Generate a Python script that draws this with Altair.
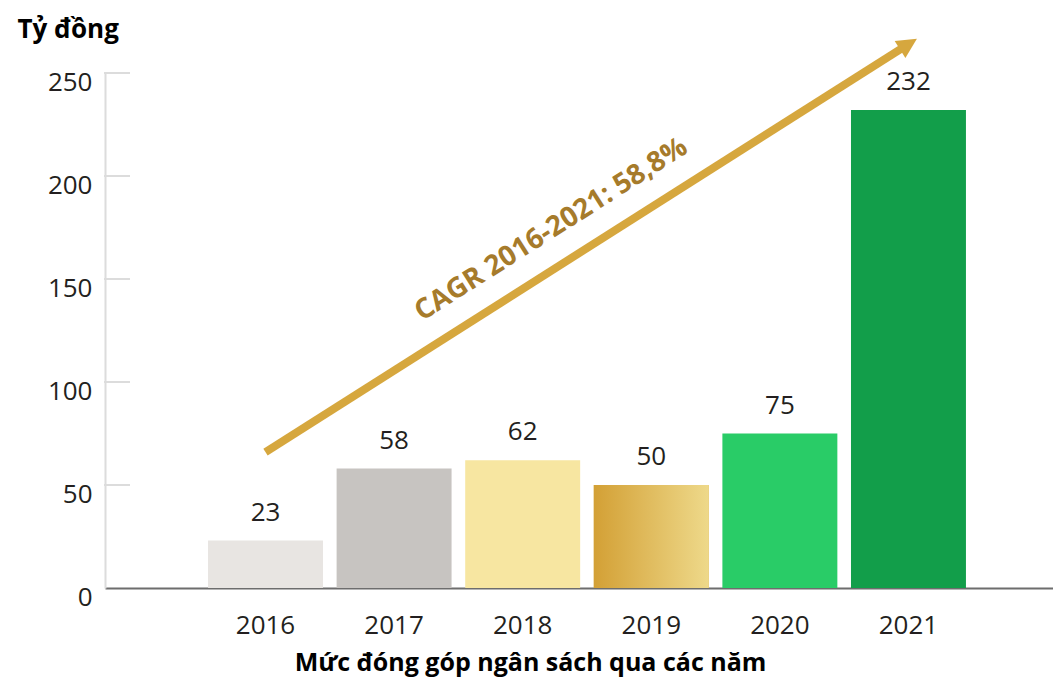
import altair as alt
import pandas as pd

# ---- data ----
years = ["2016", "2017", "2018", "2019", "2020", "2021"]
values = [23, 58, 62, 50, 75, 232]
y_ticks = [0, 50, 100, 150, 200, 250]
inner_ticks = [50, 100, 150, 200, 250]

arrow_years = ["2016", "2021"]
arrow_values = [66, 264]
head_year = ["2021"]
head_value = [264]

cagr_year = ["2018"]
cagr_value = [165]
cagr_text = ["CAGR 2016-2021: 58,8%"]

y_title = "Tỷ đồng"
x_title = "Mức đóng góp ngân sách qua các năm"

bar_colors = ["#e8e5e2", "#c7c4c1", "#f7e6a1", "#dcb04a", "#29cc67", "#129e4a"]

FONT = "Open Sans"
GOLD = "#d6a73e"
GOLD_TEXT = "#a67b2b"

bars_df = pd.DataFrame({"year": years, "value": values})
ticks_df = pd.DataFrame({"value": inner_ticks})
arrow_df = pd.DataFrame({"year": arrow_years, "value": arrow_values})
head_df = pd.DataFrame({"year": head_year, "value": head_value})
cagr_df = pd.DataFrame({"year": cagr_year, "value": cagr_value, "label": cagr_text})

xscale = alt.Scale(domain=years, paddingInner=0.106, paddingOuter=0.739, align=0.542)
yscale = alt.Scale(domain=[0, 250], nice=False, zero=True)

xaxis = alt.Axis(
    title=x_title, titleFont=FONT, titleFontSize=25, titleFontWeight="bold",
    titleColor="#000000", titleX=425, titleY=82, titleAlign="center",
    titleBaseline="alphabetic",
    labelFont=FONT, labelFontSize=26, labelColor="#231f20", labelAngle=0,
    labelPadding=24, tickSize=0, domainColor="#6d6d6d", domainWidth=2,
    grid=False,
)
yaxis = alt.Axis(
    title=y_title, titleFont=FONT, titleFontSize=26, titleFontWeight="bold",
    titleColor="#000000", titleAngle=0, titleX=-88, titleY=-36,
    titleAlign="left", titleBaseline="alphabetic",
    values=y_ticks, labelFont=FONT, labelFontSize=26, labelColor="#231f20",
    labelPadding=13, labelOffset=9, tickSize=0, domainColor="#dcdcdc",
    domainWidth=2, grid=False,
)

X = alt.X("year:N", scale=xscale, axis=xaxis)
Y = alt.Y("value:Q", scale=yscale, axis=yaxis)

bars = alt.Chart(bars_df).mark_bar().encode(
    x=X, y=Y,
    color=alt.Color("year:N", scale=alt.Scale(domain=years, range=bar_colors), legend=None),
)

grad_bar = alt.Chart(bars_df).transform_filter(alt.datum.year == "2019").mark_bar(
    fill=alt.Gradient(
        gradient="linear",
        stops=[alt.GradientStop(color="#d3a035", offset=0),
               alt.GradientStop(color="#eed98a", offset=1)],
        x1=0, x2=1, y1=0, y2=0,
    )
).encode(x=X, y=Y)

labels = alt.Chart(bars_df).mark_text(
    font=FONT, fontSize=26, color="#231f20", baseline="alphabetic", dy=-20
).encode(x=X, y=Y, text=alt.Text("value:Q"))

inticks = alt.Chart(ticks_df).mark_rule(color="#dcdcdc", strokeWidth=2).encode(
    y=Y, x=alt.value(-1), x2=alt.value(25)
)

arrow = alt.Chart(arrow_df).mark_line(color=GOLD, strokeWidth=8, strokeCap="butt").encode(
    x=X, y=Y
)

head = alt.Chart(head_df).mark_point(
    shape="M0,-0.5 L-0.5,0.5 L0.5,0.5 Z", filled=True, size=1600, angle=57.6,
    color=GOLD, opacity=1, strokeWidth=0,
).encode(x=X, y=Y)

cagr = alt.Chart(cagr_df).mark_text(
    font=FONT, fontSize=28, fontWeight="bold", color=GOLD_TEXT,
    angle=327.6, align="center", baseline="middle", dx=34,
).encode(x=X, y=Y, text="label:N")

chart = alt.layer(bars, grad_bar, labels, inticks, arrow, head, cagr).properties(
    width=948, height=515,
    background="#ffffff",
    autosize=alt.AutoSizeParams(type="none"),
    padding={"left": 97, "top": 65, "right": 0, "bottom": 91},
).configure_view(strokeWidth=0, stroke=None)

chart.save("out.html", embed_options={"renderer": "svg", "actions": False})
